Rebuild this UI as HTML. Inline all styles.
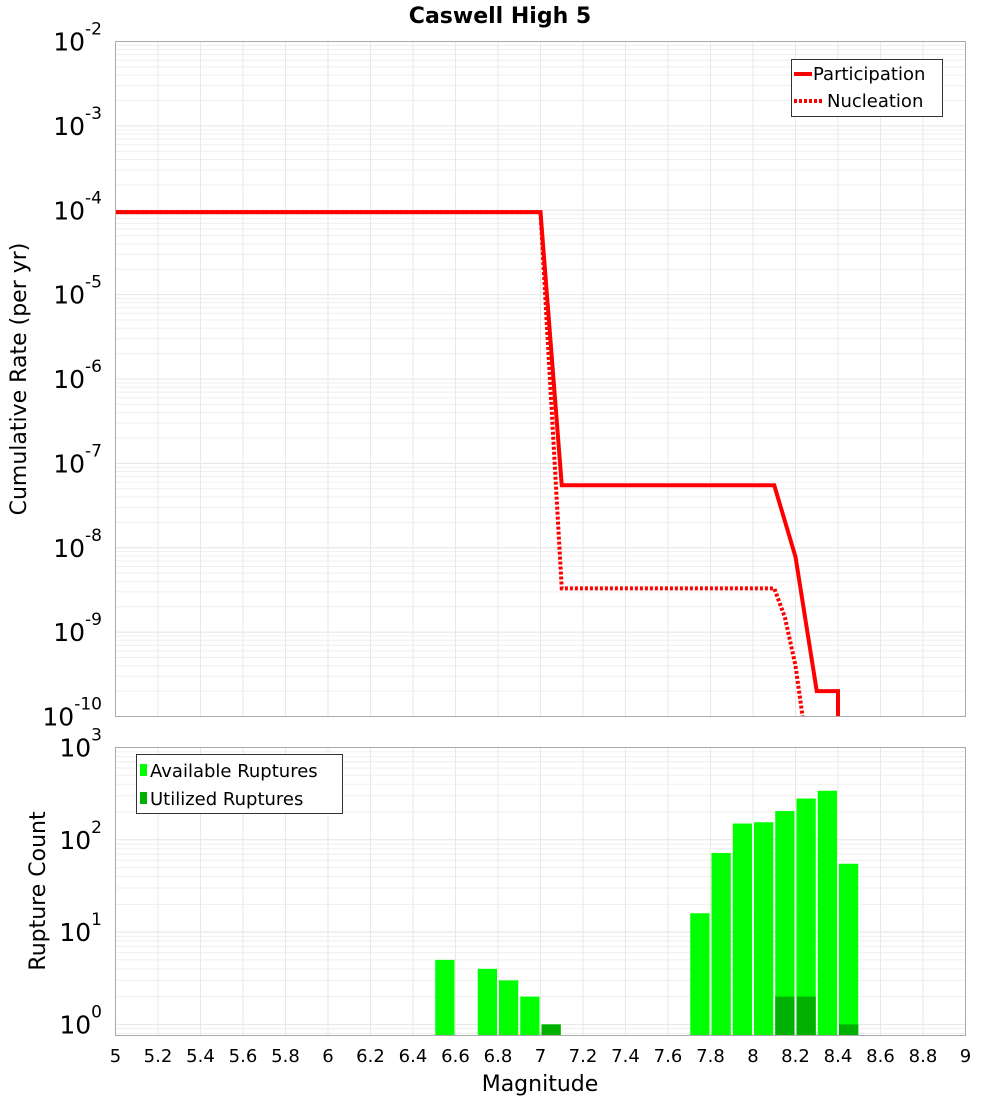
<!DOCTYPE html>
<html><head><meta charset="utf-8"><style>
body{margin:0;background:#fff}
svg{font-family:"DejaVu Sans","Liberation Sans",sans-serif}
</style></head><body>
<svg id="c" width="1000" height="1100" xmlns="http://www.w3.org/2000/svg"></svg>
<script>
const xTicks=[5,5.2,5.4,5.6,5.8,6,6.2,6.4,6.6,6.8,7,7.2,7.4,7.6,7.8,8,8.2,8.4,8.6,8.8,9];
const partMag=[5,7.0,7.1,8.1,8.2,8.3,8.4,8.4];
const partRate=[9.5e-5,9.5e-5,5.5e-8,5.5e-8,7.8e-9,2.0e-10,2.0e-10,1e-11];
const nuclMag=[5,7.0,7.1,8.1,8.15,8.2,8.25];
const nuclRate=[9.5e-5,9.5e-5,3.3e-9,3.3e-9,1.5e-9,4e-10,5e-11];
const binMag=[6.5,6.7,6.8,6.9,7.0,7.7,7.8,7.9,8.0,8.1,8.2,8.3,8.4];
const availCount=[5,4,3,2,1,16,72,150,155,205,280,340,55];
const usedCount=[0,0,0,0,1,0,0,0,0,2,2,0,1];
const topExp=[-10,-9,-8,-7,-6,-5,-4,-3,-2];
const botExp=[0,1,2,3];

const svg=document.getElementById('c');const NS='http://www.w3.org/2000/svg';
function mk(t,a,p,name){const e=document.createElementNS(NS,t);for(const k in a)e.setAttribute(k,a[k]);


(p||svg).appendChild(e);return e;}
const L=115.5,R=965.5;
const X=m=>L+(m-5)/4*(R-L);
const T1=41.5,B1=716.5;
const Y1=v=>T1+(-2-Math.log10(v))/8*(B1-T1);
const T2=747.5,B2=1035.5,D2=92.3;
const Y2=v=>T2+(3-Math.log10(v))*D2;

function grid(top,bot,yf,emin,emax,g){
  for(let e=emin;e<=emax;e++)for(let k=1;k<10;k++){const v=k*Math.pow(10,e);const y=yf(v);
    if(y<top-0.1||y>bot+0.1)continue;
    mk('line',{x1:L,x2:R,y1:y,y2:y,stroke:k==1?'#e4e4e4':'#efefef','stroke-width':1},g,'y-grid-line');}
  xTicks.forEach(t=>mk('line',{x1:X(t),x2:X(t),y1:top,y2:bot,stroke:'#e8e8e8','stroke-width':1},g,'x-grid-line'));
}
function ylab(g,y,e){const t=mk('text',{x:102,y:y+9,'text-anchor':'end','font-size':25,fill:'#000'},g,'y-tick-label');
  t.textContent='10';const s=document.createElementNS(NS,'tspan');s.setAttribute('dy',-16);s.setAttribute('font-size',17);s.textContent=String(e);t.appendChild(s);}

// title
mk('text',{x:500,y:23,'text-anchor':'middle','font-size':22,'font-weight':'bold'},svg,'chart-title').textContent='Caswell High 5';

// top panel
const g1=mk('g',{},svg,'rate-panel');
mk('rect',{x:L,y:T1,width:R-L,height:B1-T1,fill:'#fff'},g1,'rate-plot-area');
grid(T1,B1,Y1,-10,-3,g1);
const cl=mk('clipPath',{id:'cp1'},svg,'clip');mk('rect',{x:L,y:T1,width:R-L,height:B1-T1},cl,'clip-rect');
const pts=(m,r)=>m.map((v,i)=>X(v)+','+Y1(r[i])).join(' ');
mk('polyline',{points:pts(nuclMag,nuclRate),fill:'none',stroke:'#ff0000','stroke-width':4,'stroke-dasharray':'3,2','clip-path':'url(#cp1)'},g1,'nucleation-line');
mk('polyline',{points:pts(partMag,partRate),fill:'none',stroke:'#ff0000','stroke-width':4,'clip-path':'url(#cp1)'},g1,'participation-line');
mk('rect',{x:L,y:T1,width:R-L,height:B1-T1,fill:'none',stroke:'#aaa'},g1,'rate-plot-border');
topExp.forEach(e=>ylab(g1,Y1(Math.pow(10,e)),e));
mk('text',{x:0,y:0,transform:'translate(26,379) rotate(-90)','text-anchor':'middle','font-size':22},g1,'y-axis-title').textContent='Cumulative Rate (per yr)';
// legend
const lg=mk('g',{},g1,'rate-legend');
mk('rect',{x:791.5,y:59.5,width:151,height:57,fill:'#fff',stroke:'#333'},lg,'legend-box');
mk('line',{x1:794,x2:812,y1:74,y2:74,stroke:'#f00','stroke-width':4},lg,'legend-participation-swatch');
mk('text',{x:813,y:80,'font-size':18},lg,'legend-participation').textContent='Participation';
mk('line',{x1:794,x2:822,y1:101,y2:101,stroke:'#f00','stroke-width':4,'stroke-dasharray':'3,2'},lg,'legend-nucleation-swatch');
mk('text',{x:827,y:107,'font-size':18},lg,'legend-nucleation').textContent='Nucleation';

// bottom panel
const g2=mk('g',{},svg,'count-panel');
grid(T2,B2,Y2,-1,2,g2);
const bw=X(5.1)-X(5);
binMag.forEach((m,i)=>{
  const x=X(m)+1,w=bw-2;
  if(availCount[i]>0){const y=Y2(availCount[i]);mk('rect',{x:x,y:y,width:w,height:B2-y,fill:'#00ff00'},g2,'available-bar');}
  if(usedCount[i]>0){const y=Y2(usedCount[i]);mk('rect',{x:x,y:y,width:w,height:B2-y,fill:'#00b000'},g2,'utilized-bar');}
});
mk('rect',{x:L,y:T2,width:R-L,height:B2-T2,fill:'none',stroke:'#aaa'},g2,'count-plot-border');
botExp.forEach(e=>ylab(g2,Y2(Math.pow(10,e)),e));
mk('text',{x:0,y:0,transform:'translate(45,891) rotate(-90)','text-anchor':'middle','font-size':22},g2,'count-y-axis-title').textContent='Rupture Count';
const lg2=mk('g',{},g2,'count-legend');
mk('rect',{x:136.5,y:754.5,width:206,height:59,fill:'#fff',stroke:'#333'},lg2,'legend-box');
mk('rect',{x:140,y:764,width:7,height:12,fill:'#00ff00'},lg2,'legend-available-swatch');
mk('text',{x:150,y:777,'font-size':18},lg2,'legend-available').textContent='Available Ruptures';
mk('rect',{x:140,y:792,width:7,height:12,fill:'#00b000'},lg2,'legend-utilized-swatch');
mk('text',{x:150,y:805,'font-size':18},lg2,'legend-utilized').textContent='Utilized Ruptures';
xTicks.forEach(t=>{mk('text',{x:X(t),y:1062,'text-anchor':'middle','font-size':18},g2,'x-tick-label').textContent=String(t);});
mk('text',{x:540,y:1091,'text-anchor':'middle','font-size':22},g2,'x-axis-title').textContent='Magnitude';
</script>
</body></html>
